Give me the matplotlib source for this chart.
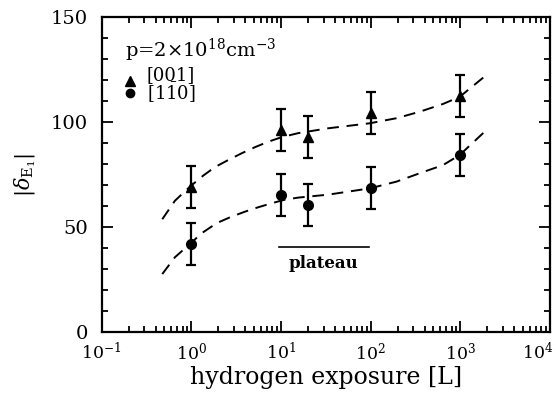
import matplotlib
matplotlib.use("Agg")
import matplotlib.pyplot as plt
from matplotlib.ticker import MultipleLocator, LogLocator, NullFormatter
from matplotlib.transforms import ScaledTranslation

plt.rcParams['font.family'] = ['DejaVu Serif']
plt.rcParams['mathtext.fontset'] = 'dejavuserif'

# measured data
exposure = [1, 10, 20, 100, 1000]
delta_001 = [69.2, 96.2, 92.7, 104.1, 112.4]
err_001 = [10, 10, 10, 10, 10]
delta_110 = [41.8, 65.2, 60.5, 68.4, 84.3]
err_110 = [10, 10, 10, 10, 10]

# dashed guide curves
fit_x_001 = [0.474, 0.656, 0.964, 1.36, 1.83, 2.58, 3.64, 5.12, 7.2, 10.2,
             15.6, 33.6, 98, 194, 353, 643, 986, 1960]
fit_001 = [53.7, 62.5, 69.2, 74.5, 78.5, 81.9, 85.1, 88.0, 90.6, 92.8,
           94.7, 97.0, 99.4, 101.8, 104.9, 108.6, 112.0, 122.4]
fit_x_110 = [0.474, 0.656, 0.964, 1.30, 1.91, 2.69, 3.96, 5.57, 7.86, 11.0,
             15.6, 33.6, 98, 194, 353, 643, 986, 1960]
fit_110 = [27.6, 35.6, 41.9, 47.0, 51.8, 54.6, 57.3, 59.4, 61.3, 63.0,
           64.0, 65.4, 68.4, 71.6, 75.6, 79.5, 84.3, 96.2]

plateau_x = [9.5, 97]
plateau_y = [40.6, 40.6]

fig = plt.figure(figsize=(5.6, 4.0), dpi=100)
ax = fig.add_axes([0.1816, 0.17, 0.8004, 0.7875])

ax.plot(fit_x_001, fit_001, color='black', lw=1.4, ls=(0, (6, 4)))
ax.plot(fit_x_110, fit_110, color='black', lw=1.4, ls=(0, (6, 4)))

ax.errorbar(exposure, delta_001, yerr=err_001, fmt='^', color='black',
            ms=7.5, elinewidth=1.6, capsize=3.5, capthick=1.6)
ax.errorbar(exposure, delta_110, yerr=err_110, fmt='o', color='black',
            ms=7, elinewidth=1.6, capsize=3.5, capthick=1.6)

ax.plot(plateau_x, plateau_y, color='black', lw=1.2)
ax.text(30, 32.4, 'plateau', ha='center', va='center', fontsize=12, fontweight='bold')

ax.set_xscale('log')
ax.set_xlim(0.1, 1e4)
ax.set_ylim(0, 150)
ax.yaxis.set_major_locator(MultipleLocator(50))
ax.yaxis.set_minor_locator(MultipleLocator(10))
ax.xaxis.set_major_locator(LogLocator(base=10, numticks=10))
ax.xaxis.set_minor_locator(LogLocator(base=10, subs=range(2, 10), numticks=20))
ax.xaxis.set_minor_formatter(NullFormatter())

ax.tick_params(which='both', direction='in', top=True, right=True, width=1.3)
ax.tick_params(which='major', length=8)
ax.tick_params(which='minor', length=4)
ax.tick_params(axis='x', which='major', labelsize=12.5, pad=7)
ax.tick_params(axis='y', which='major', labelsize=14, pad=10)
for s in ax.spines.values():
    s.set_linewidth(1.6)

ax.set_xlabel('hydrogen exposure [L]', fontsize=17, labelpad=2)
ax.set_ylabel(r'$|\delta_{\mathrm{E}_1}|$', fontsize=15, labelpad=9)

ax.text(0.182, 134.3, r'p=2$\times$10$^{18}$cm$^{-3}$', fontsize=14, va='center')
ax.plot([0.207], [119.5], marker='^', color='black', ms=6.5)
ax.plot([0.207], [114], marker='o', color='black', ms=6)
ax.text(0.318, 117.4, '[001]\n' + r'[1$\bar{1}$0]', fontsize=13, va='center',
        linespacing=0.85)

fig.canvas.draw()
for tick in ax.xaxis.get_major_ticks():
    if abs(tick.get_loc() - 1e4) < 1:
        tick.label1.set_transform(tick.label1.get_transform() +
                                  ScaledTranslation(-9 / 72, 0, fig.dpi_scale_trans))

fig.savefig('out.png', dpi=100)
